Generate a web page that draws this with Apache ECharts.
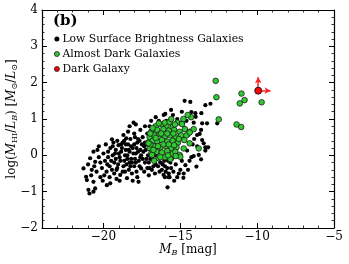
<!DOCTYPE html>
<html><head><meta charset="utf-8">
<script src="https://cdn.jsdelivr.net/npm/echarts@6/dist/echarts.min.js"></script>
<style>html,body{margin:0;padding:0;background:#fff}#c{width:349px;height:264px}</style>
</head><body><div id="c"></div>
<script>
const xTicks = [-20, -15, -10, -5];
const yTicks = [-2, -1, 0, 1, 2, 3, 4];
const seriesNames = ['Low Surface Brightness Galaxies', 'Almost Dark Galaxies', 'Dark Galaxy'];

const lsbGalaxies = [
[-21.3,-0.36],[-21.13,-0.59],[-21.08,-0.68],[-20.98,-0.95],[-20.91,-1.05],[-20.65,-1.0],[-20.54,-0.91],[-20.87,-0.08],[-20.65,0.1],[-20.39,0.15],[-20.54,-0.18],[-20.76,-0.4],[-20.65,-0.73],[-21.0,-0.25],[-20.8,-0.55],[-20.45,-0.45],[-20.6,-0.3],[-20.3,-0.05],
[-20.0,0.05],[-20.2,-0.2],[-20.1,-0.35],[-19.9,-0.15],[-19.8,-0.45],[-19.78,-0.82],[-19.56,-0.77],[-19.45,0.44],[-19.7,0.1],[-20.2,-0.6],[-19.95,-0.55],[-19.6,-0.3],[-19.7,-0.05],[-19.55,0.2],[-20.3,0.25],[-19.85,0.3],[-19.6,-0.6],[-20.05,-0.7],[-19.75,-0.25],
[-19.02,0.28],[-18.7,0.56],[-18.52,0.47],[-18.91,-0.54],[-19.4,0.0],[-19.3,-0.2],[-19.2,0.15],[-19.1,-0.35],[-19.0,0.05],[-18.9,-0.15],[-18.8,0.2],[-18.7,-0.3],[-18.6,0.0],[-19.3,-0.5],[-19.1,0.4],[-18.75,0.35],[-18.6,-0.45],[-19.4,0.25],[-18.55,0.15],[-19.2,-0.1],[-18.85,0.1],[-18.65,-0.15],[-19.45,-0.4],[-18.95,-0.7],[-18.5,-0.25],[-19.15,-0.65],
[-18.47,-0.63],[-18.04,0.9],[-17.72,-0.73],[-18.4,0.3],[-18.3,0.1],[-18.2,-0.1],[-18.1,0.2],[-18.0,-0.3],[-17.9,0.05],[-17.8,0.35],[-17.7,-0.15],[-17.6,0.15],[-18.35,-0.4],[-18.25,0.45],[-18.15,-0.5],[-17.95,0.5],[-17.85,-0.45],[-17.65,0.4],[-17.55,-0.36],[-18.45,0.0],[-18.0,0.6],[-17.75,0.1],[-18.2,0.25],[-17.9,-0.2],[-17.6,-0.05],[-18.3,-0.2],[-17.5,0.3],[-18.1,-0.7],[-17.8,-0.6],[-18.4,0.65],
[-17.4,0.1],[-17.3,-0.2],[-17.2,0.3],[-17.1,0.0],[-17.0,-0.35],[-16.9,0.45],[-16.8,-0.1],[-16.7,0.2],[-16.6,-0.25],[-17.45,0.5],[-17.35,-0.45],[-17.15,0.6],[-17.05,-0.55],[-16.95,0.15],[-16.85,-0.4],[-16.75,0.7],[-16.55,0.05],[-17.3,0.35],[-17.2,-0.1],[-16.65,-0.5],[-16.5,0.4],[-17.0,0.8],[-16.4,0.9],
[-16.2,-0.4],[-16.08,1.11],[-16.09,-0.54],[-15.98,1.14],[-15.6,1.25],[-15.48,1.11],[-15.83,-0.88],[-15.7,-0.6],[-15.76,-0.6],[-16.3,-0.2],[-16.0,-0.3],[-15.8,-0.15],[-16.4,0.95],[-15.9,0.95],[-16.2,0.85],[-15.6,-0.35],[-16.45,-0.1],
[-15.1,-0.5],[-15.0,-0.4],[-14.78,-0.5],[-14.67,-0.27],[-14.72,1.5],[-14.35,1.47],[-15.3,-0.25],[-15.2,1.0],[-14.9,1.2],[-14.6,0.95],[-15.4,-0.7],[-14.8,-0.62],
[-14.28,1.19],[-14.0,1.06],[-14.13,0.9],[-14.02,1.16],[-13.63,1.16],[-13.58,0.88],[-13.26,0.88],[-13.65,0.7],[-13.91,0.56],[-13.74,0.59],[-13.58,0.42],[-13.48,0.33],[-13.37,0.22],[-13.19,0.22],[-13.37,0.13],[-14.56,0.13],[-14.13,-0.02],[-14.28,-0.05],[-13.65,-0.11],[-13.95,-0.31],[-13.37,1.38],[-13.04,1.42],[-12.6,0.88],[-14.2,0.3],[-13.8,0.01],[-14.4,-0.15],
[-19.25,0.05],[-19.05,-0.25],[-18.85,0.3],[-18.65,0.4],[-18.45,-0.1],[-18.25,-0.3],[-18.05,0.05],[-17.85,0.2],[-17.65,-0.3],[-17.45,-0.1],[-17.25,0.15],[-17.05,-0.2],[-16.85,0.3],[-16.65,0.0],[-16.45,-0.3],[-16.25,0.1],[-16.05,-0.15],[-15.85,-0.35],[-15.65,-0.2],[-15.45,-0.45],
[-19.35,0.35],[-19.15,-0.4],[-18.95,-0.05],[-18.75,-0.45],[-18.55,0.3],[-18.35,0.15],[-18.15,-0.2],[-17.95,-0.1],[-17.75,0.45],[-17.55,0.0],[-17.35,0.25],[-17.15,-0.35],[-16.95,-0.1],[-16.75,-0.3],[-16.55,0.2],[-16.35,-0.45],[-16.15,-0.25],[-15.95,-0.45],[-15.75,-0.5],[-15.55,-0.1],
[-19.5,-0.15],[-18.0,0.3],[-17.0,0.4],[-16.0,-0.6],[-15.2,-0.6],[-15.5,0.6],[-14.9,-0.15],[-14.5,-0.4],[-14.5,0.55],[-14.1,0.45],[-13.9,0.25],
[-17.3,0.8],[-16.9,0.95],[-16.6,1.05],[-17.6,0.7],[-18.3,0.8],[-17.9,0.85]
];

const almostDarkGalaxies = [
[-16.6,0.8],[-16.2,0.85],[-15.9,0.82],[-15.5,0.78],[-15.2,0.9],[-14.89,0.88],
[-16.9,0.65],[-16.5,0.7],[-16.1,0.72],[-15.75,0.68],[-15.4,0.7],[-15.05,0.65],[-14.7,0.72],[-14.39,0.65],[-14.13,0.72],
[-17.0,0.5],[-16.7,0.55],[-16.35,0.58],[-16.0,0.52],[-15.65,0.55],[-15.3,0.5],[-14.95,0.55],
[-17.1,0.35],[-16.8,0.4],[-16.5,0.38],[-16.2,0.42],[-15.85,0.38],[-15.5,0.4],[-15.15,0.35],[-14.74,0.42],[-14.39,0.33],
[-17.0,0.2],[-16.65,0.25],[-16.3,0.22],[-15.95,0.25],[-15.6,0.2],[-15.25,0.22],[-14.78,0.19],[-13.8,0.19],
[-16.9,0.05],[-16.55,0.1],[-16.2,0.08],[-15.85,0.12],[-15.5,0.05],[-15.32,0.1],[-15.04,0.01],
[-16.84,0.01],[-16.41,-0.08],[-16.0,-0.05],[-15.65,-0.1],[-15.0,-0.04],[-16.7,-0.15],
[-16.8,0.75],[-16.4,0.88],[-16.0,0.9],[-15.7,0.92],[-15.35,0.85],[-16.75,0.15],[-16.45,0.25],[-16.1,0.3],[-15.75,0.3],[-15.4,0.28],
[-15.1,0.45],[-16.6,0.48],[-16.25,0.6],[-15.85,0.6],[-15.45,0.6],[-16.95,0.3],[-16.3,-0.05],[-15.8,0.0],[-15.3,-0.02],[-14.6,0.55],[-14.8,1.0],[-14.3,1.05],
[-15.59,1.0],[-14.52,1.11],[-14.89,0.86],[-14.39,0.63],[-16.96,0.6],[-17.07,0.33],
[-12.7,2.05],[-12.65,1.6],[-11.02,1.7],[-10.82,1.52],[-11.13,1.43],[-9.71,1.46],[-12.5,0.99],[-11.34,0.85],[-11.04,0.78]
];

const darkGalaxy = [[-9.93,1.78]];
const darkGalaxyLimitUp = 0.37;
const darkGalaxyLimitRight = 0.8;

const serif = 'DejaVu Serif';
const minus = v => String(v).replace('-', '\u2212');

function mkX(pos, labels) {
  return {
    type: 'value', position: pos, min: -24, max: -5, splitNumber: 4,
    axisLine: {show: true, onZero: false, lineStyle: {color: '#000', width: 1.2}},
    axisTick: {show: true, inside: true, length: 5, lineStyle: {color: '#000', width: 1}},
    minorTick: {show: true, splitNumber: 5, length: 2.5, lineStyle: {color: '#000', width: 0.8}},
    splitLine: {show: false},
    axisLabel: {show: labels, color: '#000', fontFamily: serif, fontSize: 12, margin: 3,
      formatter: v => xTicks.includes(v) ? minus(v) : ''},
    name: labels ? '{i|M}{s|B} [mag]' : '',
    nameLocation: 'middle', nameGap: 15, nameMoveOverlap: false,
    nameTextStyle: {color: '#000', fontFamily: serif, fontSize: 12,
      rich: {i: {fontStyle: 'italic', fontFamily: serif, fontSize: 12, color: '#000'},
             s: {fontStyle: 'italic', fontFamily: serif, fontSize: 8, color: '#000', verticalAlign: 'bottom', padding: [6,0,0,0]}}}
  };
}
function mkY(pos, labels) {
  return {
    type: 'value', position: pos, min: -2, max: 4, interval: 1,
    axisLine: {show: true, onZero: false, lineStyle: {color: '#000', width: 1.2}},
    axisTick: {show: true, inside: true, length: 5, lineStyle: {color: '#000', width: 1}},
    minorTick: {show: true, splitNumber: 5, length: 2.5, lineStyle: {color: '#000', width: 0.8}},
    splitLine: {show: false},
    axisLabel: {show: labels, color: '#000', fontFamily: serif, fontSize: 12, margin: 4,
      formatter: v => yTicks.includes(v) ? minus(v) : ''},
    name: labels ? 'log({i|M}{s|HI}/{i|L}{si|B}) [{i|M}{s|\u2299}/{i|L}{s|\u2299}]' : '',
    nameLocation: 'middle', nameGap: 23, nameRotate: 90, nameMoveOverlap: false,
    nameTextStyle: {color: '#000', fontFamily: serif, fontSize: 12,
      rich: {i: {fontStyle: 'italic', fontFamily: serif, fontSize: 12, color: '#000'},
             s: {fontFamily: serif, fontSize: 8, color: '#000', verticalAlign: 'bottom', padding: [6,0,0,0]},
             si: {fontStyle: 'italic', fontFamily: serif, fontSize: 8, color: '#000', verticalAlign: 'bottom', padding: [6,0,0,0]}}}
  };
}

const chart = echarts.init(document.getElementById('c'), null, {renderer: 'canvas'});
const p0 = darkGalaxy[0];
chart.setOption({
  animation: false,
  backgroundColor: '#fff',
  grid: {left: 42, top: 10, right: 15, bottom: 36, containLabel: false, outerBoundsMode: 'none'},
  xAxis: [mkX('bottom', true), mkX('top', false)],
  yAxis: [mkY('left', true), mkY('right', false)],
  graphic: [{type: 'text', left: 53, top: 14,
    style: {text: '(b)', fontFamily: serif, fontWeight: 'bold', fontSize: 15, fill: '#000'}}],
  legend: {
    orient: 'vertical', left: 54, top: 33, itemWidth: 5, itemHeight: 5, itemGap: 3,
    padding: 0, selectedMode: false,
    textStyle: {fontFamily: serif, fontSize: 10.8, color: '#000', lineHeight: 12, padding: [0,0,0,-2]},
    data: [
      {name: seriesNames[0], icon: 'circle', itemStyle: {color: '#000', borderWidth: 0}},
      {name: seriesNames[1], icon: 'circle', itemStyle: {color: '#32c832', borderColor: '#222', borderWidth: 0.8}},
      {name: seriesNames[2], icon: 'circle', itemStyle: {color: '#ff0000', borderColor: '#222', borderWidth: 0.8}}
    ]
  },
  series: [
    {name: seriesNames[0], type: 'scatter', data: lsbGalaxies, symbol: 'circle', symbolSize: 4.2,
     itemStyle: {color: '#000', opacity: 1}, silent: true},
    {name: seriesNames[1], type: 'scatter', data: almostDarkGalaxies, symbol: 'circle', symbolSize: 5.6,
     itemStyle: {color: '#32c832', borderColor: '#1a1a1a', borderWidth: 0.8, opacity: 1}, silent: true},
    {name: seriesNames[2], type: 'scatter', data: darkGalaxy, symbol: 'circle', symbolSize: 7, z: 5,
     itemStyle: {color: '#ff0000', borderColor: '#1a1a1a', borderWidth: 1, opacity: 1}, silent: true,
     markLine: {silent: true, symbol: ['none', 'arrow'], symbolSize: [5, 6], label: {show: false},
       lineStyle: {color: '#ff2020', width: 1.5, type: 'solid'}, emphasis: {disabled: true},
       data: [
         [{coord: [p0[0], p0[1]]}, {coord: [p0[0], p0[1] + darkGalaxyLimitUp]}],
         [{coord: [p0[0], p0[1]]}, {coord: [p0[0] + darkGalaxyLimitRight, p0[1]]}]
       ]}}
  ]
});
</script></body></html>
